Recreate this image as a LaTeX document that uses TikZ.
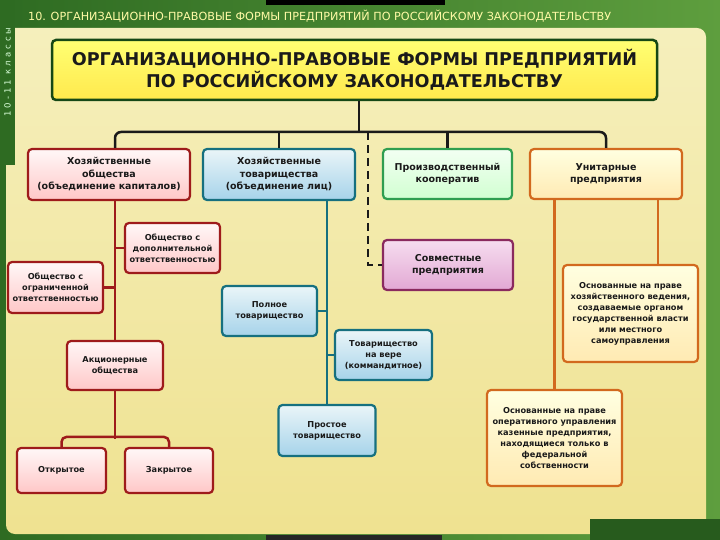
\documentclass[tikz,border=0pt]{standalone}
\usepackage{fontspec}
\setmainfont{DejaVu Sans}
\usetikzlibrary{calc}
\definecolor{gdark}{HTML}{2E6B22}
\definecolor{glight}{HTML}{5E9E3E}
\definecolor{ptop}{HTML}{F5EFBC}
\definecolor{pbot}{HTML}{EFE290}
\definecolor{redb}{HTML}{9E1B1B}
\definecolor{blueb}{HTML}{16707F}
\definecolor{greenb}{HTML}{2F9E50}
\definecolor{orangeb}{HTML}{D2691E}
\definecolor{purpb}{HTML}{8A2A5E}
\definecolor{ink}{HTML}{1A1A1A}
\definecolor{pinktop}{HTML}{F6DDEF}
\definecolor{pinkbot}{HTML}{E2A8D4}
\definecolor{bluetop}{HTML}{EAF5F8}
\definecolor{bluebot}{HTML}{A6D3EA}
\tikzset{
  box/.style={draw, line width=2.2pt, rounded corners=4pt, align=center, inner sep=2pt, text=ink, font=\bfseries},
  bigtxt/.style={font=\fontsize{9.5}{12.5}\selectfont\bfseries},
  smalltxt/.style={font=\fontsize{8.2}{11}\selectfont\bfseries},
  redbox/.style={box, draw=redb, top color=red!3!white, bottom color=red!22!white},
  bluebox/.style={box, draw=blueb, top color=bluetop, bottom color=bluebot},
  greenbox/.style={box, draw=greenb, top color=green!5!white, bottom color=green!18!white},
  orangebox/.style={box, draw=orangeb, top color=yellow!12!white, bottom color=yellow!45!orange!30!white},
  purpbox/.style={box, draw=purpb, top color=pinktop, bottom color=pinkbot},
  conn/.style={line width=2.5pt, draw=ink},
}
\begin{document}
\begin{tikzpicture}[x=1pt,y=-1pt]
\useasboundingbox (0,0) rectangle (720,540);
% background
\fill[left color=gdark, right color=glight] (0,0) rectangle (720,540);
\fill[black] (266,0) rectangle (445,5);
\shade[top color=ptop, bottom color=pbot, rounded corners=9pt] (6,28) rectangle (706,534);
\fill[gdark] (0,0) rectangle (15,165);
\fill[black!85] (266,535) rectangle (442,540);
\fill[gdark!85!black] (590,519) rectangle (720,540);
\node[rotate=90, text=green!15!white, font=\fontsize{8.5}{9}\selectfont\addfontfeature{LetterSpace=35}] (cls) at (7.5,72) {10-11 классы};
\node[text=yellow!35!white, font=\fontsize{11.2}{12}\selectfont, anchor=west, inner sep=0] (hdr) at (28,16)
  {10. ОРГАНИЗАЦИОННО-ПРАВОВЫЕ ФОРМЫ ПРЕДПРИЯТИЙ ПО РОССИЙСКОМУ ЗАКОНОДАТЕЛЬСТВУ};
% title
\node[draw=ink!80!green, line width=2.5pt, rounded corners=4pt, top color=yellow!55!white, bottom color=yellow!75!orange!70!white,
  minimum width=605, minimum height=60, align=center, text=ink,
  font=\fontsize{17.6}{22}\selectfont\bfseries] (title) at (354.5,70)
  {ОРГАНИЗАЦИОННО-ПРАВОВЫЕ ФОРМЫ ПРЕДПРИЯТИЙ\\ПО РОССИЙСКОМУ ЗАКОНОДАТЕЛЬСТВУ};
% level 1
\node[redbox, bigtxt, minimum width=162, minimum height=51] (b1) at (109,174.5) {Хозяйственные\\общества\\(объединение капиталов)};
\node[bluebox, bigtxt, minimum width=152, minimum height=51] (b2) at (279,174.5) {Хозяйственные\\товарищества\\(объединение лиц)};
\node[greenbox, bigtxt, minimum width=129, minimum height=50] (b3) at (447.5,174) {Производственный\\кооператив};
\node[orangebox, bigtxt, minimum width=152, minimum height=50] (b4) at (606,174) {Унитарные\\предприятия};
% red branch
\node[redbox, smalltxt, minimum width=95, minimum height=50] (dop) at (172.5,248) {Общество с\\дополнительной\\ответственностью};
\node[redbox, smalltxt, minimum width=95, minimum height=51] (ogr) at (55.5,287.5) {Общество с\\ограниченной\\ответственностью};
\node[redbox, smalltxt, minimum width=96, minimum height=49] (akc) at (115,365.5) {Акционерные\\общества};
\node[redbox, smalltxt, minimum width=89, minimum height=45] (otkr) at (61.5,470.5) {Открытое};
\node[redbox, smalltxt, minimum width=88, minimum height=45] (zakr) at (169,470.5) {Закрытое};
% blue branch
\node[bluebox, smalltxt, minimum width=95, minimum height=50] (poln) at (269.5,311) {Полное\\товарищество};
\node[bluebox, smalltxt, minimum width=97, minimum height=50] (vera) at (383.5,355) {Товарищество\\на вере\\(коммандитное)};
\node[bluebox, smalltxt, minimum width=97, minimum height=51] (prost) at (327,430.5) {Простое\\товарищество};
% joint
\node[purpbox, bigtxt, minimum width=130, minimum height=50] (sovm) at (448,265) {Совместные\\предприятия};
% orange branch
\node[orangebox, smalltxt, minimum width=135, minimum height=97] (hozved) at (630.5,313.5)
  {Основанные на праве\\хозяйственного ведения,\\создаваемые органом\\государственной власти\\или местного\\самоуправления};
\node[orangebox, smalltxt, minimum width=135, minimum height=96] (oper) at (554.5,438)
  {Основанные на праве\\оперативного управления\\казенные предприятия,\\находящиеся только в\\федеральной\\собственности};
% connectors from title
\coordinate (bus) at (359,132);
\coordinate (dsh) at (368,132);
\draw[conn] (title.south -| bus) -- (bus);
\draw[conn, rounded corners=6pt] (akc |- b1.north) -- (akc |- bus) -- (b4.north |- bus) -- (b4.north);
\draw[conn] (b2.north) -- (b2.north |- bus);
\draw[conn] (b3.north) -- (b3.north |- bus);
\draw[conn, dash pattern=on 8pt off 5pt] (dsh) |- (sovm.west);
% red
\draw[conn, draw=redb] (akc |- b1.south) -- (akc.north);
\draw[conn, draw=redb] (dop.west) -- (dop.west -| akc);
\draw[conn, draw=redb] (ogr.east) -- (ogr.east -| akc);
\draw[conn, draw=redb] (akc.south) -- ++(0,48);
\draw[conn, draw=redb, rounded corners=5pt] (otkr.north) -- ++(0,-10) -| (zakr.north);
% blue
\draw[conn, draw=blueb] (prost |- b2.south) -- (prost.north);
\draw[conn, draw=blueb] (poln.east) -- (poln.east -| prost);
\draw[conn, draw=blueb] (vera.west) -- (vera.west -| prost);
% orange
\coordinate (hvtop) at ([xshift=27.5pt]hozved.north);
\draw[conn, draw=orangeb] (hvtop) -- (hvtop |- b4.south);
\draw[conn, draw=orangeb] (oper.north) -- (oper.north |- b4.south);
\end{tikzpicture}
\end{document}
